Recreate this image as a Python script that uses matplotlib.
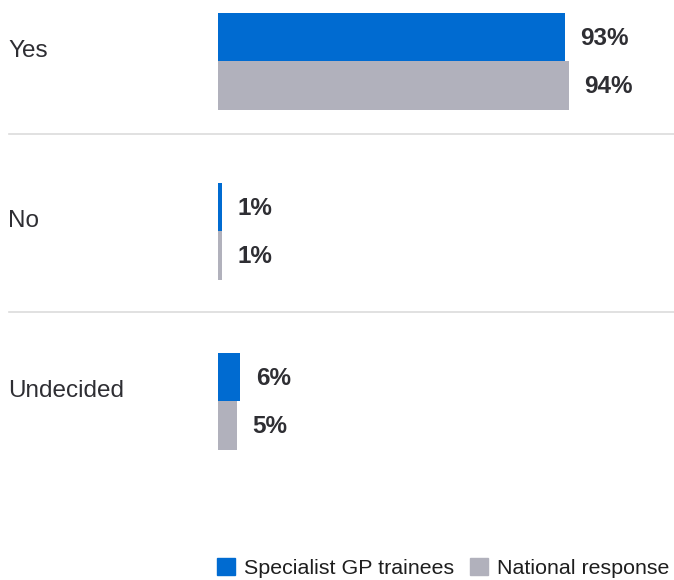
import matplotlib.pyplot as plt
from matplotlib.patches import Patch

plt.rcParams['font.family'] = ['Liberation Sans', 'DejaVu Sans']

categories = ["Yes", "No", "Undecided"]
trainees = [93, 1, 6]
national = [94, 1, 5]
series_names = ["Specialist GP trainees", "National response"]

blue = "#006bd1"
grey = "#b1b1bc"
text_col = "#2e2e33"

W, H = 674, 580
fig = plt.figure(figsize=(W / 100, H / 100), dpi=100)
ax = fig.add_axes([218 / W, 0, (W - 218) / W, 1])

# pixel layout: first group boundary at y=61, groups 170px apart
ax.set_ylim((H - 61) / 170, -61 / 170)
ax.set_xlim(0, (W - 218) / 3.73)

bh = 48.5 / 170
pos = range(len(categories))
ax.barh([p - bh / 2 for p in pos], trainees, height=bh, color=blue)
ax.barh([p + bh / 2 for p in pos], national, height=bh, color=grey)

for p, a, b in zip(pos, trainees, national):
    ax.annotate(f"{a}%", xy=(a, p - bh / 2), xytext=(11, -1.5), textcoords="offset points",
                va="center", ha="left", fontsize=17.5, fontweight="bold", color=text_col)
    ax.annotate(f"{b}%", xy=(b, p + bh / 2), xytext=(11, -1), textcoords="offset points",
                va="center", ha="left", fontsize=17.5, fontweight="bold", color=text_col)

for p, c in zip(pos, categories):
    fig.text(8 / W, 1 - (61 + 170 * p - 10) / H, c, ha="left", va="center",
             fontsize=17.5, color=text_col)

# separators
for yp in [134, 312]:
    fig.add_artist(plt.Line2D([9 / W, 1], [1 - yp / H] * 2, color="#dcdcdc", lw=1.2))

ax.axis("off")

handles = [Patch(color=blue), Patch(color=grey)]
fig.legend(handles, series_names, loc="center left", bbox_to_anchor=(217 / W, 12 / H),
           ncol=2, frameon=False, fontsize=15.4, handlelength=0.85, handleheight=0.85,
           handletextpad=0.4, columnspacing=0.75, borderpad=0, borderaxespad=0,
           labelcolor="#1e1e1e")

plt.savefig("out.png", dpi=100)
